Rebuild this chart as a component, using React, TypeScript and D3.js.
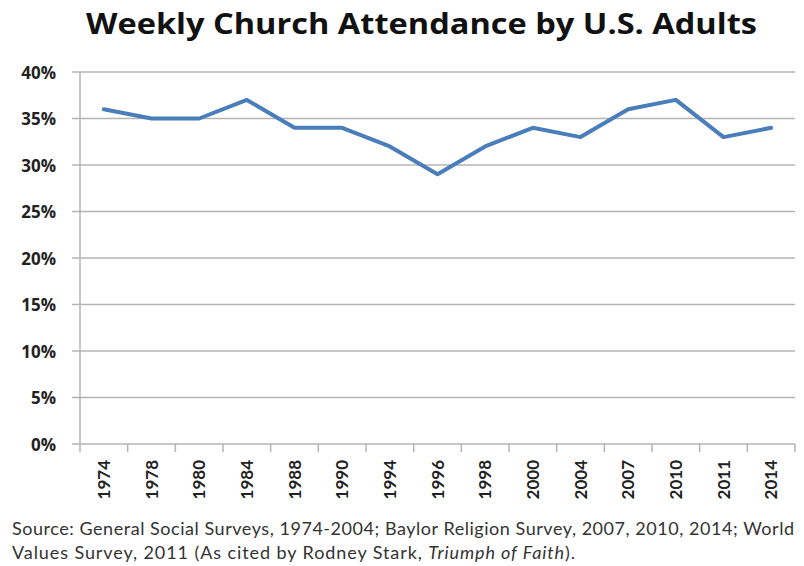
import React from "react";
import * as d3 from "d3";

const years = ["1974","1978","1980","1984","1988","1990","1994","1996","1998","2000","2004","2007","2010","2011","2014"];
const attendance = [36, 35, 35, 37, 34, 34, 32, 29, 32, 34, 33, 36, 37, 33, 34];
const yTicks = [0, 5, 10, 15, 20, 25, 30, 35, 40];

const W = 804, H = 566;
const left = 80, right = 795, top = 72, bottom = 444;
const font = "Lato, 'Open Sans', sans-serif";
const titleFont = "'Open Sans', Lato, sans-serif";

export default function App() {
  const x = d3.scaleBand().domain(years).range([left, right]);
  const y = d3.scaleLinear().domain([0, 40]).range([bottom, top]);
  const line = d3.line<number>()
    .x((_, i) => (x(years[i]) as number) + x.bandwidth() / 2)
    .y((d) => y(d));
  const grid = "#b4b4b4";
  return (
    <svg width={W} height={H} style={{ position: "absolute", left: 0, top: 0, background: "#fff" }}>
      <text x={86} y={34} fontFamily={titleFont} fontWeight="bold" fontSize={29} fill="#111" textLength={671} lengthAdjust="spacingAndGlyphs">
        Weekly Church Attendance by U.S. Adults
      </text>
      {yTicks.map((t) => (
        <g key={t}>
          {t > 0 && <line x1={left - 8} x2={right} y1={y(t)} y2={y(t)} stroke={grid} strokeWidth={1.3} />}
          <text x={56} y={y(t) + 6.5} textAnchor="end" fontFamily={titleFont} fontWeight="bold" fontSize={17} fill="#222">
            {t}%
          </text>
        </g>
      ))}
      <line x1={left - 8} x2={right} y1={bottom} y2={bottom} stroke={grid} strokeWidth={1.5} />
      <line x1={left} x2={left} y1={top} y2={bottom + 8} stroke={grid} strokeWidth={1.5} />
      {years.map((yr) => (
        <line key={"t" + yr} x1={(x(yr) as number) + x.bandwidth()} x2={(x(yr) as number) + x.bandwidth()} y1={bottom} y2={bottom + 8} stroke={grid} strokeWidth={1.5} />
      ))}
      {years.map((yr) => {
        const cx = (x(yr) as number) + x.bandwidth() / 2 + 6;
        return (
          <text key={yr} transform={`translate(${cx},${460}) rotate(-90)`} textAnchor="end" fontFamily={font} fontWeight="bold" fontSize={17} fill="#222">
            {yr}
          </text>
        );
      })}
      <path d={line(attendance) || ""} fill="none" stroke="#4a7ebb" strokeWidth={4} strokeLinejoin="round" strokeLinecap="round" />
      <text x={12} y={535} fontFamily={font} fontSize={18} fill="#333" textLength={782} lengthAdjust="spacing">
        Source: General Social Surveys, 1974-2004;  Baylor Religion Survey, 2007, 2010, 2014;  World
      </text>
      <text x={12} y={559} fontFamily={font} fontSize={18} fill="#333" textLength={563} lengthAdjust="spacing">
        Values Survey, 2011 (As cited by Rodney Stark, <tspan fontStyle="italic">Triumph of Faith</tspan>).
      </text>
    </svg>
  );
}
